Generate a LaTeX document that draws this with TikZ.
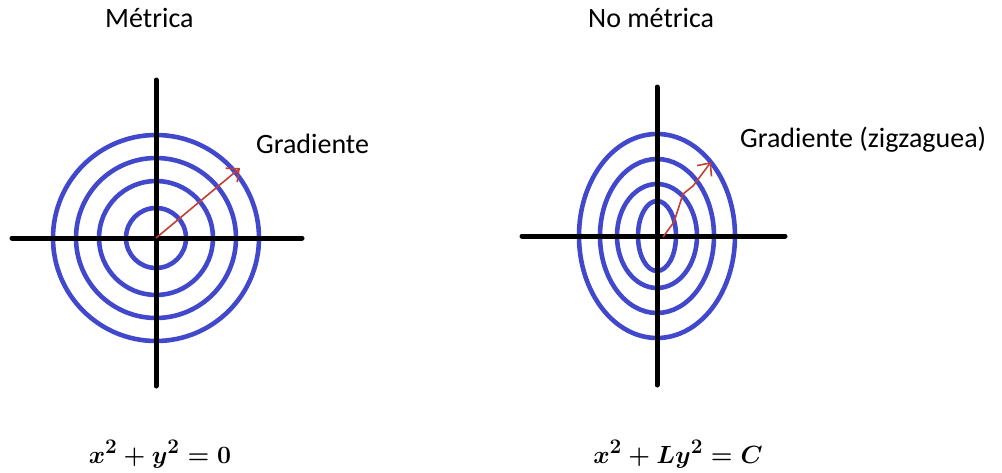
\documentclass[tikz,border=0pt]{standalone}
\usepackage{fontspec}
\setmainfont{Carlito}
\usepackage{amsmath,bm}
\usetikzlibrary{arrows.meta}
\definecolor{ringblue}{RGB}{66,72,204}
\definecolor{gradred}{RGB}{192,64,52}

\begin{document}
\begin{tikzpicture}[x=1pt, y=-1pt,
  lbl/.style={anchor=base west, inner sep=0pt, font=\fontsize{28}{32}\selectfont},
  eqn/.style={anchor=base, inner sep=0pt, font=\fontsize{29}{32}\selectfont\boldmath},
  axis/.style={line width=5pt, line cap=round},
  ring/.style={ringblue, line width=4.6pt},
  grad/.style={gradred, line width=1.6pt, -{Straight Barb[length=10pt, width=18pt]}}
]
\useasboundingbox (0,0) rectangle (1002,472);
% left: metric
\coordinate (o1) at (156,238);
\coordinate (w1) at (12,238);
\coordinate (e1) at (302,238);
\coordinate (n1) at (156,80);
\coordinate (s1) at (156,386);
\foreach \r in {30,57,80,103}
  \draw[ring] (o1) circle (\r);
\draw[axis] (w1) -- (e1);
\draw[axis] (n1) -- (s1);
\coordinate (t1) at (240,168);
\draw[grad] (o1) -- (t1);
\node[lbl] (tit1) at (105,27) {Métrica};
\node[lbl] (g1) at (256,153) {Gradiente};
\node[eqn] (eq1) at (160,463) {$x^2+y^2=0$};
% right: non metric
\coordinate (o2) at (657,236);
\coordinate (w2) at (522,236);
\coordinate (e2) at (785,236);
\coordinate (n2) at (657,87);
\coordinate (s2) at (657,385);
\foreach \rx/\ry in {19/35,40/52,57/77,78/102}
  \draw[ring] (o2) ellipse ({\rx} and {\ry});
\draw[axis] (w2) -- (e2);
\draw[axis] (n2) -- (s2);
\coordinate (z0) at (663,237);
\coordinate (z1) at (674,222);
\coordinate (z2) at (683,194);
\coordinate (z3) at (693,186);
\coordinate (t2) at (711,162);
\draw[grad] (z0) -- (z1) -- (z2) -- (z3) -- (t2);
\node[lbl] (tit2) at (588,27) {No métrica};
\node[lbl] (g2) at (740,147) {Gradiente (zigzaguea)};
\node[eqn] (eq2) at (678,463) {$x^2+Ly^2=C$};
\end{tikzpicture}
\end{document}
